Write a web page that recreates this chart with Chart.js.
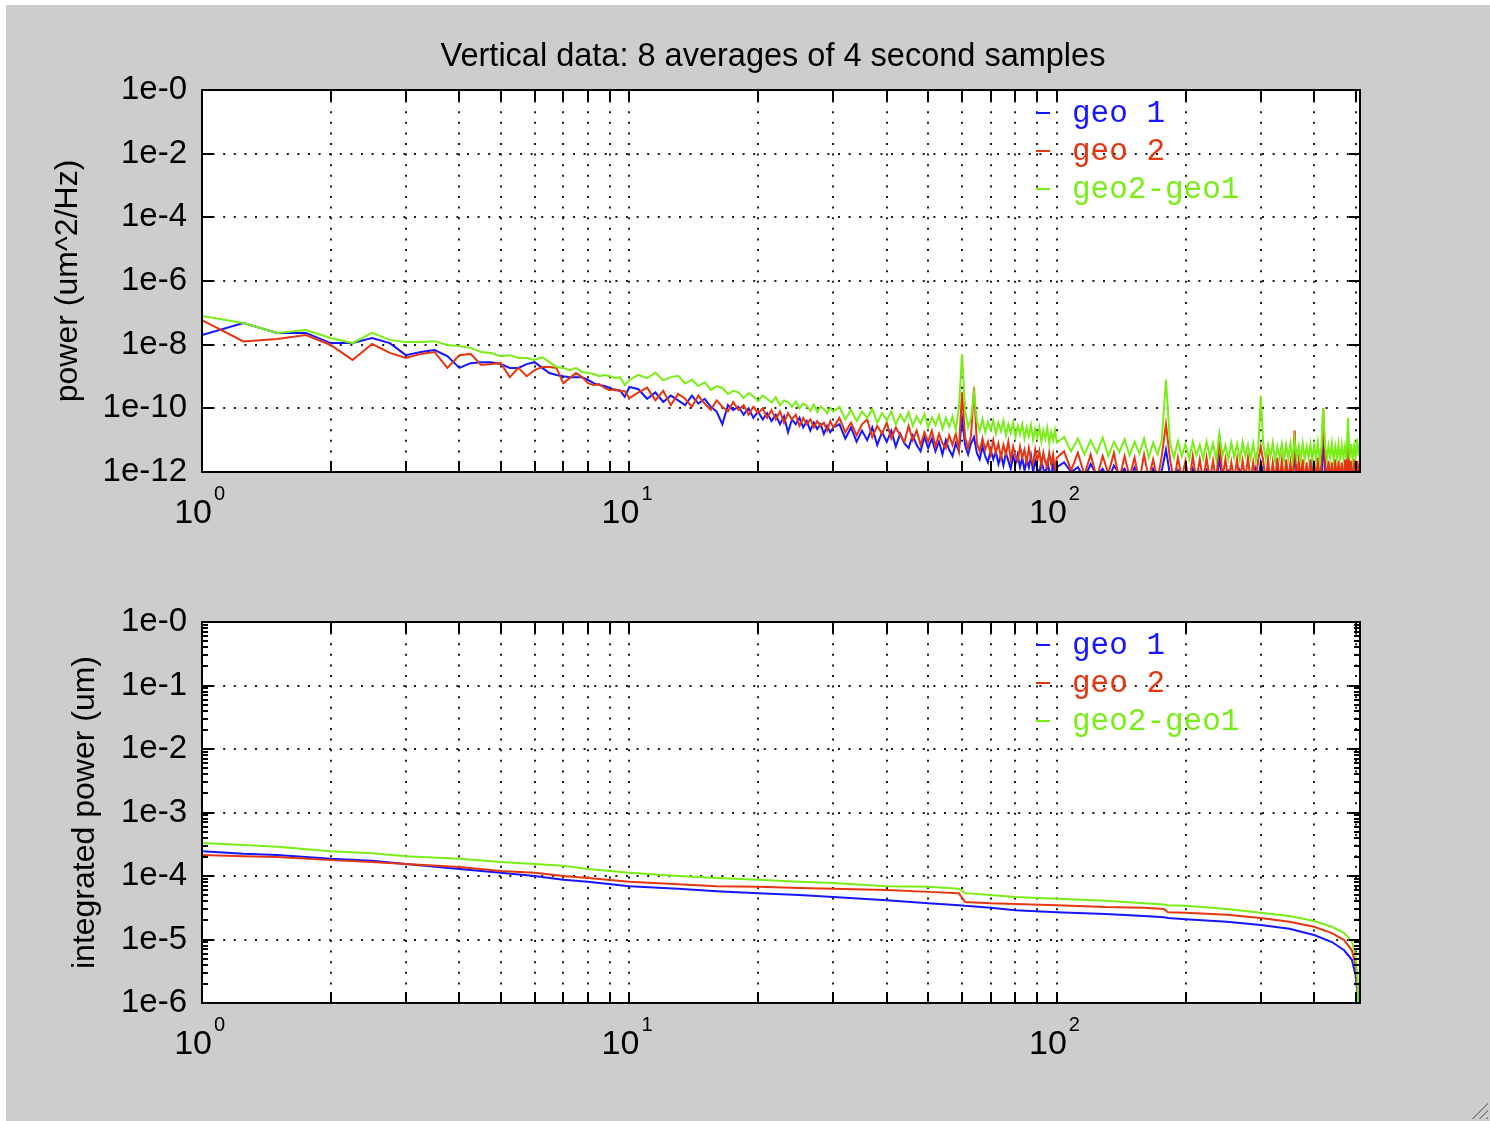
<!DOCTYPE html>
<html>
<head>
<meta charset="utf-8">
<title>Vertical data</title>
<script src="https://cdn.jsdelivr.net/npm/chart.js@4.4.0/dist/chart.umd.min.js"></script>
<style>
    html, body { margin: 0; padding: 0; background: #fff; }
    body { width: 1490px; height: 1121px; position: relative; overflow: hidden; }
    #panel { position: absolute; left: 6px; top: 5px; right: 0; bottom: 0; background: #cdcdcd; }
    canvas { position: absolute; left: 0; }
    #psdCanvas { top: 0; }
    #intCanvas { top: 532px; }
    #grip {
        position: absolute; right: 2px; bottom: 2px; width: 18px; height: 18px;
        background: repeating-linear-gradient(135deg, transparent 0 4px, #8a8a8a 4px 5px);
        clip-path: polygon(100% 0, 100% 100%, 0 100%);
    }
</style>
</head>
<body>
<div id="panel"></div>
<canvas id="psdCanvas" width="1490" height="560"></canvas>
<canvas id="intCanvas" width="1490" height="589"></canvas>
<div id="grip"></div>
<script>
// --- Series ---
const seriesNames = ['geo 1', 'geo 2', 'geo2-geo1'];
const seriesColors = ['#1616ff', '#e6360f', '#78ee16'];

// --- Power spectrum (top plot) ---
const freqHz = [
    1, 1.25, 1.5, 1.75, 2, 2.25, 2.5, 2.75, 3, 3.25, 3.5, 3.75, 4, 4.25, 4.5, 4.75, 5, 5.25, 5.5, 5.75,
    6, 6.25, 6.5, 6.75, 7, 7.25, 7.5, 7.75, 8, 8.25, 8.5, 8.75, 9, 9.25, 9.5, 9.75, 10,
    10.5, 11, 11.5, 12, 12.5, 13, 13.5, 14, 14.5, 15, 15.5, 16, 16.5, 17, 17.5, 18, 18.5, 19, 19.5, 20,
    20.5, 21, 21.5, 22, 22.5, 23, 23.5, 24, 24.5, 25, 25.5, 26, 26.5, 27, 27.5, 28, 28.5, 29, 29.5, 30,
    31, 32, 33, 34, 35, 36, 37, 38, 39, 40, 41, 42, 43, 44, 45, 46, 47, 48, 49, 50,
    51, 52, 53, 54, 55, 56, 57, 58, 59, 60, 61, 62, 63, 64, 65, 66, 67, 68, 69, 70,
    71, 72, 73, 74, 75, 76, 77, 78, 79, 80, 81, 82, 83, 84, 85, 86, 87, 88, 89, 90,
    91, 92, 93, 94, 95, 96, 97, 98, 99, 100,
    104, 108, 112, 116, 120, 124, 128, 132, 136, 140, 144, 148, 152, 156, 160, 164, 168, 172, 176, 180,
    184, 188, 192, 196, 200, 204, 208, 212, 216, 220, 224, 228, 232, 236, 240, 244, 248, 252, 256, 260,
    264, 268, 272, 276, 280, 284, 288, 292, 296, 300, 304, 308, 312, 316, 320, 324, 328, 332, 336, 340,
    344, 348, 352, 356, 360, 364, 368, 372, 376, 380, 384, 388, 392, 396, 400, 404, 408, 412, 416, 420,
    424, 428, 432, 436, 440, 444, 448, 452, 456, 460, 464, 468, 472, 476, 480, 484, 488, 492, 496, 500,
    504, 508, 512
];

// log10 of power, um^2/Hz
const geo1PsdLog = [
    -7.70, -7.32, -7.63, -7.63, -7.95, -7.95, -7.79, -7.95, -8.33, -8.23, -8.17, -8.36, -8.73, -8.58, -8.55, -8.55, -8.61, -8.73, -8.73, -8.61,
    -8.55, -8.73, -8.89, -8.95, -8.99, -9.02, -9.02, -9.02, -9.11, -9.21, -9.27, -9.30, -9.36, -9.43, -9.43, -9.64, -9.33,
    -9.4, -9.7, -9.5, -9.8, -9.6, -9.75, -9.9, -9.6, -9.85, -9.7, -9.95, -10.1, -10.5, -9.9, -10.05, -9.95, -10.2, -10.0, -10.3, -10.1,
    -10.35, -10.15, -10.4, -10.2, -10.5, -10.25, -10.75, -10.35, -10.5, -10.3, -10.6, -10.4, -10.7, -10.45, -10.65, -10.5, -10.8, -10.55, -10.75, -10.6,
    -10.5, -10.95, -10.6, -11.05, -10.7, -11.0, -10.6, -11.15, -10.75, -11.05, -10.7, -11.2, -10.8, -11.1, -11.25, -10.85, -11.15, -11.35, -10.9, -11.25,
    -10.95, -11.35, -11.05, -11.45, -11.0, -11.3, -11.5, -11.1, -11.35, -10.3, -11.15, -11.45, -11.1, -10.9, -11.4, -11.6, -11.2, -11.5, -11.7, -11.3,
    -11.6, -11.35, -11.75, -11.45, -11.8, -11.4, -11.65, -11.9, -11.5, -11.75, -11.45, -11.85, -11.55, -11.95, -11.6, -11.85, -11.5, -12.0, -11.65, -11.9,
    -12.05, -11.65, -11.9, -12.1, -11.7, -11.95, -12.15, -11.75, -12.0, -11.85,
    -11.7, -12.0, -11.85, -12.2, -11.75, -12.1, -11.9, -12.25, -11.8, -12.05, -11.9, -12.3, -11.85, -12.1, -12.0, -12.35, -11.9, -12.2, -11.95, -11.3,
    -12.1, -12.3, -11.95, -12.25, -12.05, -12.4, -11.9, -12.2, -12.0, -12.3, -11.95, -12.25, -12.05, -12.35, -11.6, -12.2, -12.4, -12.0, -12.3, -12.1,
    -12.35, -11.95, -12.2, -12.05, -12.4, -12.1, -12.3, -11.9, -12.25, -11.7, -12.05, -12.35, -12.0, -12.3, -12.1, -12.4, -11.95, -12.25, -12.05, -12.35,
    -12.0, -12.3, -12.15, -12.4, -11.4, -12.2, -12.35, -12.0, -12.3, -12.1, -12.35, -12.05, -12.25, -11.6, -12.4, -12.1, -12.3, -12.0, -12.35, -10.8,
    -12.05, -12.35, -11.95, -12.25, -12.1, -12.4, -12.0, -12.3, -12.15, -12.35, -12.0, -12.3, -12.1, -12.35, -11.5, -12.15, -12.4, -11.95, -12.25, -12.05,
    -12.35, -12.0, -11.8
];
const geo2PsdLog = [
    -7.23, -7.90, -7.82, -7.70, -8.01, -8.48, -7.98, -8.26, -8.42, -8.29, -8.23, -8.73, -8.33, -8.29, -8.64, -8.61, -8.58, -9.02, -8.73, -8.99,
    -8.80, -8.70, -8.70, -8.73, -9.21, -9.05, -8.89, -9.02, -9.21, -9.27, -9.24, -9.36, -9.43, -9.40, -9.46, -9.46, -9.68,
    -9.5, -9.35, -9.75, -9.45, -9.9, -9.55, -9.7, -9.95, -9.6, -9.85, -10.05, -9.75, -9.95, -10.1, -9.8, -10.05, -9.9, -10.2, -9.95, -10.15,
    -10.0, -10.3, -10.05, -10.35, -10.1, -10.45, -10.15, -10.35, -10.2, -10.55, -10.3, -10.5, -10.35, -10.6, -10.4, -10.55, -10.45, -10.7, -10.4, -10.6,
    -10.3, -10.75, -10.45, -10.85, -10.5, -10.35, -10.9, -10.55, -10.8, -10.45, -10.95, -10.6, -10.85, -11.05, -10.55, -11.0, -10.7, -11.15, -10.75, -11.05,
    -10.7, -11.2, -10.8, -11.1, -11.25, -10.85, -11.15, -10.8, -11.3, -9.5, -10.9, -11.25, -10.85, -9.35, -11.1, -11.35, -10.95, -11.3, -11.05, -11.45,
    -11.0, -11.4, -11.1, -11.55, -11.15, -11.45, -11.05, -11.6, -11.2, -11.5, -11.65, -11.2, -11.55, -11.3, -11.7, -11.25, -11.6, -11.75, -11.3, -11.65,
    -11.35, -11.8, -11.4, -11.7, -11.85, -11.4, -11.75, -11.45, -11.9, -11.55,
    -11.35, -11.95, -11.4, -12.1, -11.45, -12.2, -11.5, -12.05, -11.4, -12.25, -11.5, -12.15, -11.55, -12.3, -11.45, -12.2, -11.6, -12.25, -11.5, -10.5,
    -11.6, -12.3, -11.55, -12.2, -11.65, -12.35, -11.5, -12.25, -11.6, -12.3, -11.55, -12.25, -11.65, -12.35, -10.85, -12.2, -11.6, -12.3, -11.7, -12.25,
    -11.6, -12.35, -11.65, -12.2, -11.55, -12.3, -11.7, -12.25, -11.6, -11.2, -11.65, -12.3, -11.6, -12.35, -11.7, -12.25, -11.55, -12.3, -11.65, -12.35,
    -11.6, -12.25, -11.7, -12.35, -10.7, -12.3, -11.65, -12.25, -11.6, -12.35, -11.7, -12.3, -11.6, -12.25, -11.65, -12.35, -11.55, -12.3, -11.7, -10.0,
    -11.6, -12.3, -11.65, -12.25, -11.7, -12.35, -11.6, -12.3, -11.65, -12.25, -11.7, -12.35, -11.6, -12.3, -10.8, -12.25, -11.65, -12.35, -11.6, -12.3,
    -11.65, -12.25, -11.5
];
const diffPsdLog = [
    -7.10, -7.32, -7.63, -7.54, -7.79, -7.95, -7.63, -7.85, -7.92, -7.92, -7.89, -8.01, -8.04, -8.10, -8.23, -8.26, -8.36, -8.33, -8.42, -8.42,
    -8.48, -8.39, -8.55, -8.70, -8.73, -8.80, -8.73, -8.86, -8.89, -8.92, -8.99, -8.95, -8.99, -9.05, -9.02, -9.27, -9.11,
    -8.95, -9.05, -8.88, -9.12, -9.02, -8.98, -9.22, -9.1, -9.3, -9.18, -9.42, -9.3, -9.36, -9.55, -9.45, -9.5, -9.68, -9.52, -9.62, -9.78,
    -9.6, -9.7, -9.82, -9.65, -9.9, -9.75, -9.8, -9.95, -9.78, -10.0, -9.85, -9.92, -10.08, -9.88, -10.12, -9.95, -10.02, -10.15, -9.98, -10.1,
    -9.95, -10.35, -10.05, -10.4, -10.1, -10.3, -10.02, -10.45, -10.15, -10.38, -10.1, -10.5, -10.2, -10.42, -10.12, -10.55, -10.25, -10.48, -10.18, -10.6,
    -10.28, -10.52, -10.22, -10.65, -10.3, -10.58, -10.25, -10.68, -10.0, -8.3, -10.05, -10.6, -10.3, -9.5, -10.4, -10.7, -10.35, -10.75, -10.42, -10.68,
    -10.38, -10.8, -10.45, -10.72, -10.4, -10.85, -10.5, -10.78, -10.45, -10.9, -10.55, -10.82, -10.5, -10.95, -10.6, -10.88, -10.52, -11.0, -10.65, -10.92,
    -10.6, -11.05, -10.7, -10.95, -10.62, -11.1, -10.75, -11.0, -10.68, -11.08,
    -10.9, -11.35, -10.95, -11.45, -11.0, -11.4, -10.92, -11.5, -11.05, -11.38, -10.98, -11.48, -11.05, -11.42, -10.95, -11.55, -11.08, -11.45, -11.0, -9.1,
    -11.1, -11.55, -11.02, -11.5, -11.12, -11.6, -11.05, -11.48, -11.15, -11.58, -11.05, -11.52, -11.1, -11.62, -10.8, -11.5, -11.15, -11.6, -11.08, -11.55,
    -11.12, -11.62, -11.05, -11.5, -11.15, -11.58, -11.1, -11.65, -11.2, -9.6, -11.1, -11.6, -11.15, -11.52, -11.08, -11.65, -11.2, -11.55, -11.12, -11.62,
    -11.15, -11.58, -11.1, -11.65, -11.0, -11.55, -11.18, -11.62, -11.1, -11.6, -11.2, -11.55, -11.12, -11.62, -11.15, -11.58, -11.08, -11.65, -11.18, -10.0,
    -11.12, -11.6, -11.18, -11.55, -11.1, -11.62, -11.2, -11.58, -11.12, -11.65, -11.15, -11.55, -11.2, -11.6, -10.3, -11.58, -11.12, -11.62, -11.18, -11.55,
    -10.95, -11.5, -11.1
];

// --- Integrated power (bottom plot) ---
const intFreqHz = [
    1, 1.25, 1.5, 2, 2.5, 3, 4, 5, 6, 7, 8, 10, 13, 16, 20, 25, 30, 40, 50, 59,
    61, 70, 80, 100, 130, 160, 178, 182, 200, 250, 300, 350, 400, 440, 470, 490, 500, 505, 510
];
// log10 of integrated power, um
const geo1IntLog = [
    -3.61, -3.65, -3.67, -3.73, -3.76, -3.81, -3.89, -3.95, -4.0, -4.06, -4.09, -4.16, -4.2, -4.24, -4.27, -4.3, -4.33, -4.38, -4.43, -4.46,
    -4.47, -4.5, -4.54, -4.57, -4.6, -4.63, -4.65, -4.66, -4.68, -4.72, -4.77, -4.83, -4.93, -5.04, -5.17, -5.32, -5.56, -5.87, -7
];
const geo2IntLog = [
    -3.67, -3.69, -3.7, -3.75, -3.78, -3.81, -3.86, -3.92, -3.95, -4.0, -4.03, -4.09, -4.13, -4.16, -4.17, -4.19, -4.2, -4.22, -4.25, -4.27,
    -4.41, -4.43, -4.44, -4.46, -4.49, -4.5, -4.52, -4.57, -4.58, -4.61, -4.66, -4.72, -4.8, -4.9, -5.01, -5.17, -5.4, -5.72, -7
];
const diffIntLog = [
    -3.48, -3.51, -3.54, -3.61, -3.64, -3.69, -3.73, -3.78, -3.81, -3.84, -3.89, -3.95, -4.0, -4.03, -4.06, -4.09, -4.11, -4.16, -4.17, -4.2,
    -4.27, -4.3, -4.33, -4.36, -4.39, -4.43, -4.45, -4.46, -4.47, -4.52, -4.58, -4.63, -4.71, -4.8, -4.9, -5.03, -5.25, -5.6, -7
];

// --- Axis ticks ---
const freqGridTicks = [1, 2, 3, 4, 5, 6, 7, 8, 9, 10, 20, 30, 40, 50, 60, 70, 80, 90, 100, 200, 300, 400, 500];
const freqLabelTicks = [1, 10, 100];
const psdTicks = [1e-12, 1e-10, 1e-8, 1e-6, 1e-4, 1e-2, 1];
const intTicks = [1e-6, 1e-5, 1e-4, 1e-3, 1e-2, 1e-1, 1];

Chart.defaults.font.family = '"Liberation Sans", Arial, sans-serif';
Chart.defaults.color = '#000';

// --- Frame, inner ticks, superscript labels, legend ---
const matlabAxes = {
    id: 'matlabAxes',
    beforeDraw(chart) {
        const { ctx, chartArea: a } = chart;
        ctx.save();
        ctx.fillStyle = '#fff';
        ctx.fillRect(a.left, a.top, a.right - a.left, a.bottom - a.top);
        ctx.restore();
    },
    afterDraw(chart, args, opts) {
        const { ctx, chartArea: a } = chart;
        const xs = chart.scales.x;
        const ys = chart.scales.y;
        ctx.save();
        ctx.strokeStyle = '#000';
        ctx.lineWidth = 2;
        ctx.beginPath();
        xs.ticks.forEach(t => {
            const px = Math.round(xs.getPixelForValue(t.value));
            ctx.moveTo(px, a.bottom); ctx.lineTo(px, a.bottom - 11);
            ctx.moveTo(px, a.top); ctx.lineTo(px, a.top + 11);
        });
        ys.ticks.forEach(t => {
            const py = Math.round(ys.getPixelForValue(t.value));
            ctx.moveTo(a.left, py); ctx.lineTo(a.left + 11, py);
            ctx.moveTo(a.right, py); ctx.lineTo(a.right - 11, py);
        });
        if (opts.minorY) {
            for (let i = 0; i < ys.ticks.length - 1; i++) {
                const base = ys.ticks[i].value;
                for (let m = 2; m <= 9; m++) {
                    const py = Math.round(ys.getPixelForValue(base * m));
                    ctx.moveTo(a.left, py); ctx.lineTo(a.left + 6, py);
                    ctx.moveTo(a.right, py); ctx.lineTo(a.right - 6, py);
                }
            }
        }
        ctx.stroke();
        ctx.strokeRect(a.left, a.top, a.right - a.left, a.bottom - a.top);

        // x labels as 10 with a raised exponent
        ctx.fillStyle = '#000';
        ctx.textBaseline = 'alphabetic';
        freqLabelTicks.forEach(v => {
            const px = xs.getPixelForValue(v);
            ctx.font = '34px "Liberation Sans"';
            ctx.textAlign = 'right';
            ctx.fillText('10', px + 10, a.bottom + 51);
            ctx.font = '20px "Liberation Sans"';
            ctx.textAlign = 'left';
            ctx.fillText(String(Math.round(Math.log10(v))), px + 12, a.bottom + 28);
        });

        // legend
        ctx.font = '31px "Liberation Mono"';
        ctx.textBaseline = 'middle';
        chart.data.datasets.forEach((ds, i) => {
            const y = a.top + 24 + i * 38;
            ctx.strokeStyle = ds.borderColor;
            ctx.beginPath();
            ctx.moveTo(opts.legendX - 36, y - 1);
            ctx.lineTo(opts.legendX - 22, y - 1);
            ctx.stroke();
            ctx.fillStyle = ds.borderColor;
            ctx.fillText(ds.label, opts.legendX, y);
        });

        if (opts.title) {
            ctx.fillStyle = '#000';
            ctx.font = '32.5px "Liberation Sans"';
            ctx.textAlign = 'center';
            ctx.fillText(opts.title, 773, 57);
        }
        ctx.restore();
    }
};

function makeDatasets(xValues, logSets) {
    return logSets.map((logs, i) => ({
        label: seriesNames[i],
        data: xValues.map((x, j) => ({ x: x, y: Math.pow(10, logs[j]) })),
        borderColor: seriesColors[i],
        backgroundColor: seriesColors[i],
        borderWidth: 2,
        pointRadius: 0,
        tension: 0,
        order: 3 - i
    }));
}

function buildChart(canvasId, setup) {
    const ctx = document.getElementById(canvasId).getContext('2d');
    const gridLines = { color: '#1c1c1c', lineWidth: 2, drawTicks: false };
    const dotted = { display: false, dash: [2, 8.6] };
    return new Chart(ctx, {
        type: 'line',
        data: { datasets: makeDatasets(setup.xValues, setup.series) },
        options: {
            responsive: false,
            animation: false,
            events: [],
            layout: { padding: { top: 90, right: 130, left: 0, bottom: 0 } },
            plugins: {
                legend: { display: false },
                tooltip: { enabled: false },
                matlabAxes: { legendX: 1072, minorY: setup.minorY, title: setup.title }
            },
            scales: {
                x: {
                    type: 'logarithmic',
                    min: 1,
                    max: 512,
                    afterBuildTicks: (axis) => { axis.ticks = freqGridTicks.map(v => ({ value: v })); },
                    afterFit: (axis) => { axis.height = setup.xAxisHeight; },
                    ticks: { display: false },
                    grid: gridLines,
                    border: dotted
                },
                y: {
                    type: 'logarithmic',
                    min: setup.yTicks[0],
                    max: setup.yTicks[setup.yTicks.length - 1],
                    afterBuildTicks: (axis) => { axis.ticks = setup.yTicks.map(v => ({ value: v })); },
                    afterFit: (axis) => { axis.width = 202; },
                    ticks: {
                        padding: 15,
                        autoSkip: false,
                        color: '#000',
                        font: { size: 33 },
                        callback: (v) => '1e-' + Math.round(-Math.log10(v))
                    },
                    grid: gridLines,
                    border: dotted,
                    title: {
                        display: true,
                        text: setup.yTitle,
                        color: '#000',
                        font: { size: 32 },
                        padding: { top: setup.yTitlePad, bottom: 0 }
                    }
                }
            }
        },
        plugins: [matlabAxes]
    });
}

// --- Initial Load ---
buildChart('psdCanvas', {
    xValues: freqHz,
    series: [geo1PsdLog, geo2PsdLog, diffPsdLog],
    yTicks: psdTicks,
    yTitle: 'power (um^2/Hz)',
    yTitlePad: 49,
    xAxisHeight: 88,
    minorY: false,
    title: 'Vertical data: 8 averages of 4 second samples'
});

buildChart('intCanvas', {
    xValues: intFreqHz,
    series: [geo1IntLog, geo2IntLog, diffIntLog],
    yTicks: intTicks,
    yTitle: 'integrated power (um)',
    yTitlePad: 66,
    xAxisHeight: 118,
    minorY: true,
    title: ''
});
</script>
</body>
</html>
